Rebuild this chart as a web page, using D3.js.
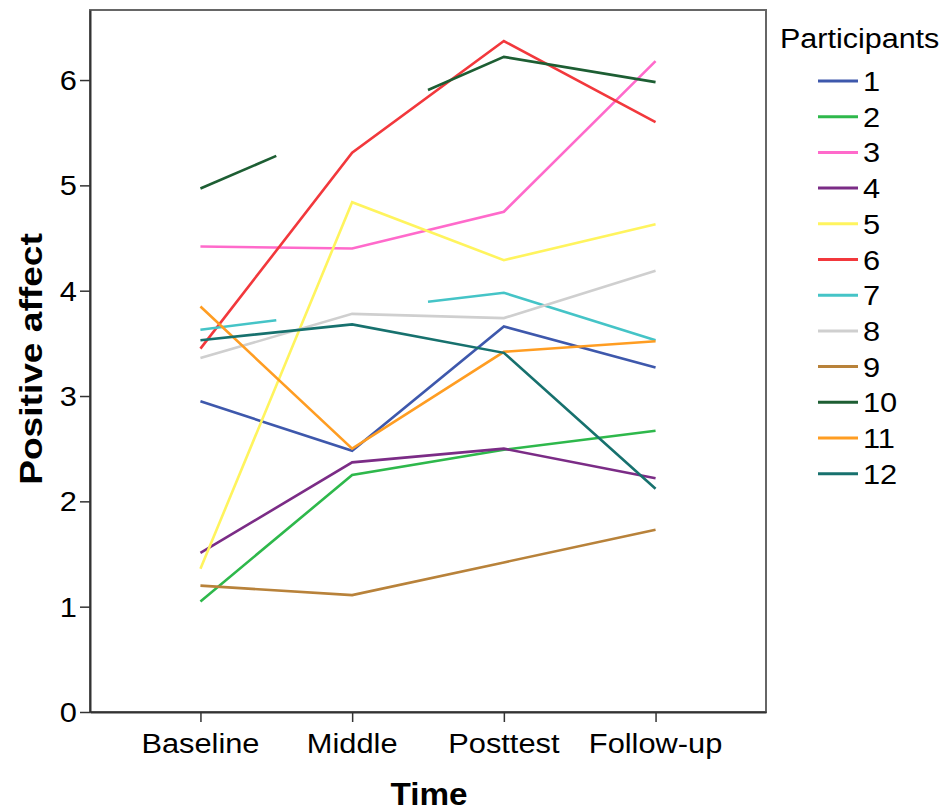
<!DOCTYPE html>
<html>
<head>
<meta charset="utf-8">
<script src="https://cdn.jsdelivr.net/npm/d3@7"></script>
<style>
  html, body { margin: 0; padding: 0; background: #fff; }
  svg { display: block; font-family: "Liberation Sans", Arial, sans-serif; }
</style>
</head>
<body>
<svg id="chart" width="945" height="812"></svg>
<script>
// ---- data ----
const times = ["Baseline", "Middle", "Posttest", "Follow-up"];
const participants = ["1","2","3","4","5","6","7","8","9","10","11","12"];
const yTicks = [0, 1, 2, 3, 4, 5, 6];
const p1  = [2.95, 2.48, 3.66, 3.27];
const p2  = [1.05, 2.25, 2.49, 2.67];
const p3  = [4.42, 4.40, 4.75, 6.18];
const p4  = [1.51, 2.37, 2.50, 2.22];
const p5  = [1.36, 4.84, 4.29, 4.63];
const p6  = [3.45, 5.31, 6.37, 5.60];
const p7  = [3.63, 3.81, 3.98, 3.53];
const p8  = [3.36, 3.78, 3.74, 4.19];
const p9  = [1.20, 1.11, 1.42, 1.73];
const p10 = [4.97, 5.59, 6.22, 5.98];
const p11 = [3.85, 2.50, 3.42, 3.52];
const p12 = [3.53, 3.68, 3.41, 2.12];
const seriesValues = [p1,p2,p3,p4,p5,p6,p7,p8,p9,p10,p11,p12];
const colors = ["#3E58AC","#2EB84B","#FF6ACB","#7B2C86","#FFF45E","#F2383C",
                "#45C4C7","#CFCFCF","#B8823A","#1D5E33","#FF9D22","#17716E"];
// participants whose Middle measurement is missing (lines drawn only halfway toward it)
const missingMiddle = ["7", "10"];

// ---- layout ----
const svg = d3.select("#chart");
const L = 90, R = 766, T = 10, B = 712;
const x = d3.scalePoint().domain(times).range([L, R]).padding(0.728);
const y = d3.scaleLinear().domain([0, 6.665]).range([B, T]);
const SX = 1.1;

function txt(g, s, tx, ty, opts) {
  opts = opts || {};
  return g.append("text")
    .attr("transform", `translate(${tx},${ty}) ${opts.rot ? "rotate(" + opts.rot + ")" : ""} scale(${opts.sx || SX},1)`)
    .attr("text-anchor", opts.anchor || "start")
    .attr("font-size", opts.size || 28)
    .attr("font-weight", opts.bold ? "bold" : "normal")
    .attr("fill", "#000")
    .text(s);
}

// frame
svg.append("rect").attr("x", L).attr("y", T).attr("width", R - L).attr("height", B - T)
  .attr("fill", "none").attr("stroke", "#666").attr("stroke-width", 2);

// y axis
const yAxis = d3.axisLeft(y).tickValues(yTicks).tickSize(10).tickSizeOuter(0).tickFormat("");
const gy = svg.append("g").attr("transform", `translate(${L},0)`).call(yAxis);
gy.select(".domain").attr("stroke", "#333").attr("stroke-width", 2);
gy.selectAll(".tick line").attr("stroke", "#333").attr("stroke-width", 1.5);
yTicks.forEach(v => txt(svg, String(v), 77, y(v) + 10, {anchor: "end"}));

// x axis
const xAxis = d3.axisBottom(x).tickSize(10).tickSizeOuter(0).tickFormat("");
const gx = svg.append("g").attr("transform", `translate(0,${B})`).call(xAxis);
gx.select(".domain").attr("stroke", "#333").attr("stroke-width", 2);
gx.selectAll(".tick line").attr("stroke", "#333").attr("stroke-width", 1.5);
times.forEach(t => txt(svg, t, x(t), 753, {anchor: "middle"}));

// axis titles
txt(svg, "Time", 429, 805, {anchor: "middle", bold: true, size: 32, sx: 1.04});
txt(svg, "Positive affect", 42, 359, {anchor: "middle", bold: true, size: 32, rot: -90, sx: 1.16});

// lines
const line = d3.line().x(d => d[0]).y(d => d[1]);
const gl = svg.append("g").attr("fill", "none").attr("stroke-width", 2.6).attr("stroke-linejoin", "miter");
participants.forEach((p, i) => {
  const vals = seriesValues[i];
  const pts = vals.map((v, k) => [x(times[k]), y(v)]);
  let parts;
  if (missingMiddle.includes(p)) {
    const m01 = [(pts[0][0] + pts[1][0]) / 2, (pts[0][1] + pts[1][1]) / 2];
    const m12 = [(pts[1][0] + pts[2][0]) / 2, (pts[1][1] + pts[2][1]) / 2];
    parts = [[pts[0], m01], [m12, pts[2], pts[3]]];
  } else {
    parts = [pts];
  }
  parts.forEach(seg => gl.append("path").attr("d", line(seg)).attr("stroke", colors[i]));
});

// legend
const lg = svg.append("g");
txt(lg, "Participants", 780, 48, {sx: 1.09});
participants.forEach((p, i) => {
  const ly = 81 + i * 35.7;
  lg.append("line").attr("x1", 818).attr("x2", 858).attr("y1", ly).attr("y2", ly)
    .attr("stroke", colors[i]).attr("stroke-width", 3);
  txt(lg, p, 863, ly + 10);
});
</script>
</body>
</html>
